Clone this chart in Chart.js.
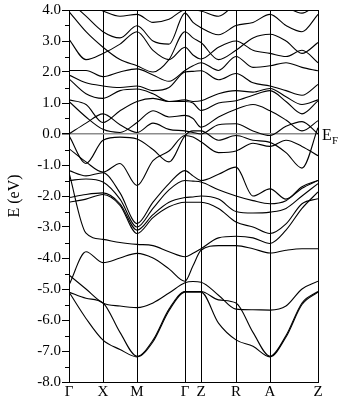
<!DOCTYPE html>
<html>
<head>
<meta charset="utf-8">
<script src="https://cdn.jsdelivr.net/npm/chart.js@4/dist/chart.umd.min.js"></script>
<style>
  html, body { margin: 0; padding: 0; background: #fff; }
  #wrap { width: 342px; height: 400px; }
</style>
</head>
<body>
<div id="wrap"><canvas id="bands" width="342" height="400"></canvas></div>
<script>
// k path positions (arbitrary length units along the path)
const kPoints = [0, 17, 34, 51, 68, 84, 100, 116, 124, 132, 149.5, 167, 184, 201, 217, 233, 249];
const kTicks = [0, 34, 68, 116, 132, 167, 201, 249];
const kLabels = ['Γ', 'X', 'M', 'Γ', 'Z', 'R', 'A', 'Z'];

// band energies (eV) at each k point
const band01 = [-5.10, -5.95, -6.65, -6.95, -7.19, -6.70, -5.70, -5.10, -5.10, -5.10, -6.10, -6.64, -6.85, -7.19, -6.55, -5.50, -5.10];
const band02 = [-5.10, -5.30, -5.45, -6.40, -7.17, -6.65, -5.65, -5.08, -5.08, -5.08, -5.35, -5.45, -6.40, -7.17, -6.50, -5.45, -5.08];
const band03 = [-4.55, -5.00, -5.45, -5.55, -5.60, -5.45, -5.13, -4.80, -4.76, -4.78, -5.20, -5.65, -5.67, -5.68, -5.55, -5.00, -4.75];
const band04 = [-4.87, -3.80, -4.15, -4.00, -3.85, -4.00, -4.35, -4.75, -4.25, -3.75, -3.60, -3.60, -3.70, -3.84, -3.75, -3.70, -3.70];
const band05 = [-1.25, -3.20, -3.40, -3.50, -3.56, -3.60, -3.80, -3.96, -3.85, -3.70, -3.35, -3.30, -3.35, -3.53, -3.10, -2.40, -1.87];
const band06 = [-2.20, -2.10, -1.95, -2.30, -3.21, -2.70, -2.35, -2.20, -2.20, -2.20, -2.40, -2.84, -3.00, -3.21, -2.90, -2.25, -2.09];
const band07 = [-2.05, -1.95, -1.90, -2.25, -3.10, -2.60, -2.20, -2.05, -2.03, -2.00, -2.10, -2.50, -2.55, -2.52, -2.40, -2.00, -1.60];
const band08 = [-1.50, -1.45, -1.55, -2.10, -3.00, -2.40, -1.80, -1.50, -1.52, -1.55, -1.80, -2.00, -2.15, -2.25, -2.15, -1.75, -1.50];
const band09 = [-1.18, -1.35, -1.25, -1.90, -2.89, -2.20, -1.60, -1.18, -1.35, -1.50, -1.30, -1.07, -2.00, -1.77, -2.10, -1.70, -1.50];
const band10 = [-0.05, -0.95, -0.20, -0.10, -0.16, -0.50, -0.90, -0.05, 0.10, 0.10, -0.20, -0.05, -0.20, -0.27, -0.60, -1.10, 0.20];
const band11 = [-0.47, -0.90, -1.23, -0.95, -1.66, -0.86, -0.55, -0.05, -0.10, -0.25, -0.60, -0.55, -0.30, -0.40, -0.20, -0.40, -0.70];
const band12 = [0.00, 0.35, 0.65, 0.30, 0.05, 0.35, 0.15, 0.10, 0.05, 0.00, 0.30, 0.33, 0.10, -0.05, 0.25, 0.40, 0.00];
const band13 = [1.05, 0.55, 0.15, 0.05, 0.37, 0.75, 0.55, 0.60, 0.50, 0.22, 0.55, 0.80, 0.95, 0.75, 0.45, 0.10, 0.43];
const band14 = [1.10, 0.95, 0.37, 0.75, 1.05, 1.15, 1.05, 1.05, 1.00, 0.76, 1.00, 1.07, 1.25, 1.40, 1.05, 0.65, 1.07];
const band15 = [1.78, 1.30, 1.15, 1.40, 1.45, 1.30, 1.05, 1.10, 1.05, 1.07, 1.30, 1.40, 1.35, 1.47, 1.20, 0.95, 1.10];
const band16 = [1.90, 1.65, 1.55, 1.50, 1.55, 1.40, 1.50, 2.00, 2.02, 2.04, 1.75, 1.95, 1.65, 1.55, 1.40, 1.25, 1.60];
const band17 = [2.05, 2.05, 1.85, 2.00, 2.10, 1.90, 1.70, 2.05, 2.20, 2.30, 2.05, 2.50, 2.15, 2.20, 2.30, 2.15, 2.04];
const band18 = [3.05, 2.40, 2.60, 2.90, 3.30, 2.70, 2.40, 2.80, 2.55, 2.42, 2.80, 3.00, 2.70, 2.60, 2.50, 2.70, 2.30];
const band19 = [3.95, 3.30, 2.80, 2.40, 2.20, 2.00, 2.40, 3.30, 3.10, 2.95, 2.40, 2.70, 3.10, 3.22, 3.00, 2.60, 2.95];
const band20 = [4.30, 3.80, 3.30, 3.10, 3.49, 3.00, 2.90, 3.90, 3.60, 3.43, 3.20, 3.50, 3.60, 3.86, 3.50, 3.30, 3.86];
const band21 = [4.50, 4.20, 3.97, 3.80, 3.86, 3.60, 3.70, 4.00, 4.00, 3.97, 3.80, 4.20, 4.40, 4.40, 4.10, 3.90, 4.20];

const bands = [band01, band02, band03, band04, band05, band06, band07, band08, band09, band10, band11,
               band12, band13, band14, band15, band16, band17, band18, band19, band20, band21];

const serif = '"Liberation Serif", "DejaVu Serif", serif';

// frame, minor ticks and the E_F label
const extras = {
    id: 'extras',
    afterDraw(chart) {
        const { ctx, chartArea: a } = chart;
        const y = chart.scales.y;
        ctx.save();
        ctx.strokeStyle = '#000';
        ctx.lineWidth = 1;
        ctx.strokeRect(a.left + 0.5, a.top + 0.5, a.right - a.left, a.bottom - a.top);
        for (let v = -7.5; v < 4; v += 1) {
            const py = Math.round(y.getPixelForValue(v)) + 0.5;
            ctx.beginPath();
            ctx.moveTo(a.left - 4, py);
            ctx.lineTo(a.left, py);
            ctx.stroke();
        }
        const y0 = y.getPixelForValue(0);
        ctx.fillStyle = '#000';
        ctx.textBaseline = 'alphabetic';
        ctx.font = '16px ' + serif;
        ctx.fillText('E', a.right + 4, y0 + 6);
        ctx.font = '11px ' + serif;
        ctx.fillText('F', a.right + 14, y0 + 10);
        ctx.restore();
    }
};

new Chart(document.getElementById('bands'), {
    type: 'line',
    data: {
        datasets: bands.map(b => ({
            data: kPoints.map((k, i) => ({ x: k, y: b[i] })),
            borderColor: '#000',
            borderWidth: 1.1,
            pointRadius: 0,
            cubicInterpolationMode: 'monotone',
            fill: false
        }))
    },
    options: {
        responsive: false,
        animation: false,
        devicePixelRatio: 1,
        layout: { padding: { left: 0, right: 24, top: 9, bottom: 0 } },
        plugins: { legend: { display: false }, tooltip: { enabled: false } },
        scales: {
            x: {
                type: 'linear',
                min: 0,
                max: 249,
                afterBuildTicks: axis => { axis.ticks = kTicks.map(v => ({ value: v })); },
                afterFit: s => { s.height = 18; },
                ticks: {
                    autoSkip: false,
                    maxRotation: 0,
                    padding: 1,
                    color: '#000',
                    font: { family: serif, size: 15 },
                    callback: v => kLabels[kTicks.indexOf(v)]
                },
                grid: { color: '#000', lineWidth: 1, drawTicks: false },
                border: { color: '#000' }
            },
            y: {
                min: -8,
                max: 4,
                afterFit: s => { s.width = 69; },
                ticks: {
                    stepSize: 1,
                    padding: 1,
                    color: '#000',
                    font: { family: serif, size: 15 },
                    callback: v => v.toFixed(1)
                },
                grid: {
                    color: c => (c.tick && c.tick.value === 0 ? '#8c8c8c' : 'rgba(0,0,0,0)'),
                    lineWidth: c => (c.tick && c.tick.value === 0 ? 1.5 : 1),
                    tickColor: '#000',
                    tickLength: 7
                },
                border: { color: '#000' },
                title: {
                    display: true,
                    text: 'E (eV)',
                    color: '#000',
                    font: { family: serif, size: 16 },
                    padding: { top: 5, bottom: 0 }
                }
            }
        }
    },
    plugins: [extras]
});
</script>
</body>
</html>
